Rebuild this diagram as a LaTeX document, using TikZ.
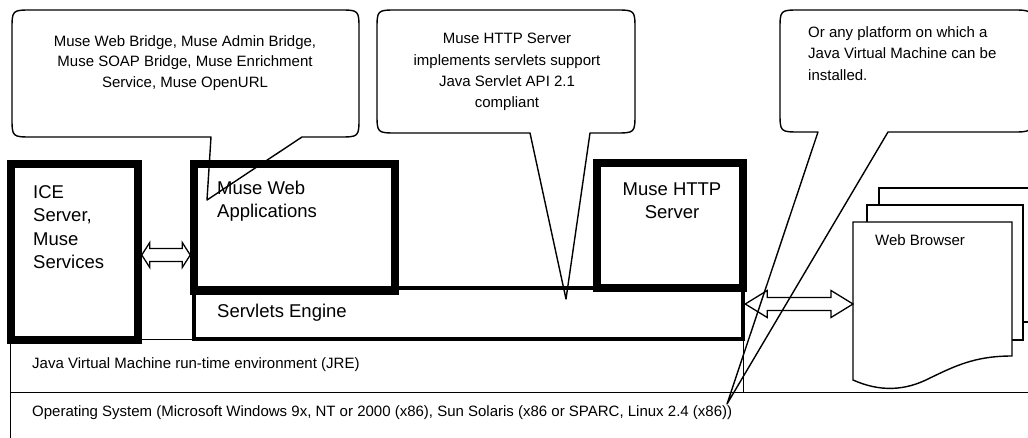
\documentclass[tikz,border=0pt]{standalone}
\usepackage{fontspec}
\setmainfont{Liberation Sans}
\usetikzlibrary{calc}
\newcommand{\dblarrowpath}[5]{%
  \draw[arrowshape] (#1) -- ($(#1)+(#3,-#4)$) -- ($(#1)+(#3,-#5)$) -- ($(#2)+(-#3,-#5)$) -- ($(#2)+(-#3,-#4)$) -- (#2)
    -- ($(#2)+(-#3,#4)$) -- ($(#2)+(-#3,#5)$) -- ($(#1)+(#3,#5)$) -- ($(#1)+(#3,#4)$) -- cycle;}
\begin{document}
\begin{tikzpicture}[x=1pt,y=-1pt,
  thinbox/.style={draw, line width=1.3pt, inner sep=0pt},
  thickbox/.style={draw, line width=7.5pt, inner sep=0pt},
  midbox/.style={draw, line width=4.5pt, inner sep=0pt},
  callout/.style={draw, line width=1.4pt, line join=round},
  arrowshape/.style={draw, fill=white, line width=1.3pt, line join=miter},
  page/.style={draw, fill=white, line width=1.4pt},
  bigtxt/.style={font=\fontsize{18.5}{23.3}\selectfont, inner sep=0pt, align=left},
  smalltxt/.style={font=\fontsize{15}{20.5}\selectfont, inner sep=0pt},
  ]
\useasboundingbox (0,0) rectangle (1028,438);
\clip (0,0) rectangle (1028,438);
\fill[white] (0,0) rectangle (1028,438);

% layers
\node[thinbox, minimum width=1030pt, minimum height=60pt, anchor=north west] (os) at (10,392) {};
\node[thinbox, minimum width=733pt, minimum height=53pt, anchor=north west] (jre) at (10,339) {};
\node[smalltxt, anchor=west] (jretxt) at (32,365) {Java Virtual Machine run-time environment (JRE)};
\node[smalltxt, anchor=west] (ostxt) at (32,413) {Operating System (Microsoft Windows 9x, NT or 2000 (x86), Sun Solaris (x86 or SPARC, Linux 2.4 (x86))};

% servlets engine
\node[midbox, minimum width=549pt, minimum height=51pt, anchor=north west] (servlets) at (191.75,285.75) {};
\node[bigtxt, anchor=west] (servtxt) at (217,313) {Servlets Engine};

% thick boxes
\node[thickbox, minimum width=201pt, minimum height=127pt, anchor=north west] (webapp) at (190.25,160.25) {};
\node[bigtxt, anchor=west] (webapptxt) at (217,201.5) {Muse Web\\Applications};
\node[thickbox, minimum width=146pt, minimum height=125pt, anchor=north west] (http) at (593.25,159.25) {};
\node[bigtxt, align=center] (httptxt) at (672,200.5) {Muse HTTP\\Server};
\node[thickbox, minimum width=127pt, minimum height=176pt, anchor=north west] (ice) at (7.25,160.25) {};
\node[bigtxt, anchor=west] (icetxt) at (33,227) {ICE\\Server,\\Muse\\Services};

% web browser pages
\draw[page] (879,188) rectangle (1040,322);
\draw[page] (867,205) rectangle (1023,340);
\draw[page] (853,222) -- (1012,222) -- (1012,356) .. controls (975,356) and (955,366) .. (930,378)
  .. controls (905,391) and (880,392) .. (853,380) -- cycle;
\coordinate (browser) at (853,304);
\node[smalltxt, anchor=west] (browsertxt) at (875,240) {Web Browser};

% double arrows
\coordinate (ya) at (0,255);
\coordinate (yb) at (0,304);
\coordinate (a1s) at (ice.east |- ya);
\coordinate (a1e) at (webapp.west |- ya);
\coordinate (a2s) at (servlets.east |- yb);
\coordinate (a2e) at (browser);
\dblarrowpath{a1s}{a1e}{8}{12.5}{6.5}
\dblarrowpath{a2s}{a2e}{22}{13.5}{6.5}

% callouts
\coordinate (tip1) at (207,200);
\coordinate (tip2) at (566,299);
\coordinate (tip3) at (727,404);
\draw[callout] (211,137) -- (32,137) .. controls (12,137) .. (12,117) -- (12,30) .. controls (12,10) .. (32,10)
  -- (339,10) .. controls (359,10) .. (359,30) -- (359,117) .. controls (359,137) .. (339,137) -- (302,137) -- (tip1) -- cycle;
\node[smalltxt, align=center] (c1txt) at (185,63) {Muse Web Bridge, Muse Admin Bridge,\\Muse SOAP Bridge, Muse Enrichment\\Service, Muse OpenURL};

\draw[callout] (530,133) -- (397,133) .. controls (377,133) .. (377,113) -- (377,30) .. controls (377,10) .. (397,10)
  -- (615,10) .. controls (635,10) .. (635,30) -- (635,113) .. controls (635,133) .. (615,133) -- (590,133) -- (tip2) -- cycle;
\node[smalltxt, align=center, font=\fontsize{15}{21.3}\selectfont] (c2txt) at (507,72) {Muse HTTP Server\\implements servlets support\\Java Servlet API 2.1\\compliant};

\draw[callout] (818,132) -- (800,132) .. controls (780,132) .. (780,112) -- (780,30) .. controls (780,10) .. (800,10)
  -- (1012,10) .. controls (1032,10) .. (1032,30) -- (1032,112) .. controls (1032,132) .. (1012,132) -- (888,132) -- (tip3) -- cycle;
\node[smalltxt, align=left, anchor=west, font=\fontsize{15}{21.5}\selectfont] (c3txt) at (808,53.5) {Or any platform on which a\\Java Virtual Machine can be\\installed.};
\end{tikzpicture}
\end{document}
